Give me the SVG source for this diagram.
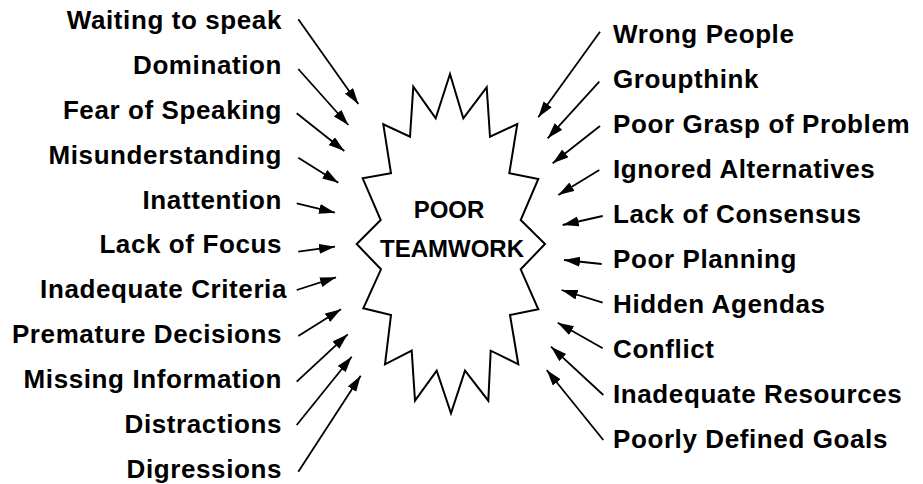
<svg xmlns="http://www.w3.org/2000/svg" width="923" height="484" viewBox="0 0 923 484">
<style>
.lbl{font-family:"Liberation Sans",Arial,sans-serif;font-weight:bold;font-size:26px;letter-spacing:0.6px;fill:#000}
.l{text-anchor:end}
.ctr{font-family:"Liberation Sans",Arial,sans-serif;font-weight:bold;font-size:24px;fill:#000;text-anchor:middle}
.arr{stroke:#000;stroke-width:1.8;fill:none;marker-end:url(#ah)}
</style>
<defs>
<marker id="ah" markerUnits="userSpaceOnUse" markerWidth="18" markerHeight="12" refX="16" refY="5" orient="auto">
<path d="M0,0 L16,5 L0,10 z" fill="#000"/>
</marker>
</defs>
<rect width="923" height="484" fill="#fff"/>
<g id="center">
<polygon points="450,74 463.3,118.3 486.7,87.3 490,136.7 517.3,124 509.3,173.3 538.3,179 520.7,220 545,244 520.7,269.3 538.3,309.3 510,315 518.3,364.3 490.7,350.7 488.3,400.7 465,370.7 451,413.3 436.7,370.7 415,400.7 411.7,350.7 385,364.3 391,315 363.3,308.3 381,269.3 356.7,244 380.7,220 362.7,178.3 391,173.3 383.3,124.3 410,136.7 413.3,86.7 435.7,118.3" fill="#fff" stroke="#000" stroke-width="2" stroke-linejoin="miter"/>
<text class="ctr" x="449" y="218">POOR</text>
<text class="ctr" x="452" y="256.5">TEAMWORK</text>
</g>
<g id="left-labels">
<text id="n-waiting" class="lbl l" x="282" y="29">Waiting to speak</text>
<text id="n-domination" class="lbl l" x="282" y="74">Domination</text>
<text id="n-fear" class="lbl l" x="282" y="119">Fear of Speaking</text>
<text id="n-misund" class="lbl l" x="282" y="164">Misunderstanding</text>
<text id="n-inatt" class="lbl l" x="282" y="209">Inattention</text>
<text id="n-focus" class="lbl l" x="282" y="253">Lack of Focus</text>
<text id="n-criteria" class="lbl l" x="287" y="298">Inadequate Criteria</text>
<text id="n-premature" class="lbl l" x="282" y="343">Premature Decisions</text>
<text id="n-missing" class="lbl l" x="282" y="388">Missing Information</text>
<text id="n-distr" class="lbl l" x="282" y="433">Distractions</text>
<text id="n-digr" class="lbl l" x="282" y="478">Digressions</text>
</g>
<g id="right-labels">
<text id="n-wrong" class="lbl" x="613" y="43">Wrong People</text>
<text id="n-group" class="lbl" x="613" y="88">Groupthink</text>
<text id="n-grasp" class="lbl" x="613" y="133">Poor Grasp of Problem</text>
<text id="n-ignored" class="lbl" x="613" y="178">Ignored Alternatives</text>
<text id="n-consensus" class="lbl" x="613" y="223">Lack of Consensus</text>
<text id="n-planning" class="lbl" x="613" y="268">Poor Planning</text>
<text id="n-hidden" class="lbl" x="613" y="313">Hidden Agendas</text>
<text id="n-conflict" class="lbl" x="613" y="358">Conflict</text>
<text id="n-resources" class="lbl" x="613" y="403">Inadequate Resources</text>
<text id="n-goals" class="lbl" x="613" y="448">Poorly Defined Goals</text>
</g>
<g id="connectors">
<line class="arr" x1="298.3" y1="19.3" x2="358.3" y2="104"/>
<line class="arr" x1="298.3" y1="69" x2="348.3" y2="125"/>
<line class="arr" x1="296.7" y1="113.3" x2="344.3" y2="151"/>
<line class="arr" x1="298.3" y1="157.7" x2="338.3" y2="182.7"/>
<line class="arr" x1="296.7" y1="203.3" x2="335" y2="212.7"/>
<line class="arr" x1="298.3" y1="251.7" x2="335" y2="246.7"/>
<line class="arr" x1="296.7" y1="290" x2="336" y2="277.3"/>
<line class="arr" x1="298.3" y1="336" x2="341" y2="309.3"/>
<line class="arr" x1="296.7" y1="381.7" x2="347.7" y2="334.3"/>
<line class="arr" x1="296.7" y1="425" x2="351.7" y2="356.7"/>
<line class="arr" x1="298.3" y1="471.7" x2="360.7" y2="375.7"/>
<line class="arr" x1="600" y1="31.7" x2="538.3" y2="117.3"/>
<line class="arr" x1="599.3" y1="81.7" x2="547.7" y2="138.3"/>
<line class="arr" x1="600" y1="126" x2="552.7" y2="163.3"/>
<line class="arr" x1="599.3" y1="170" x2="558.3" y2="195"/>
<line class="arr" x1="602.7" y1="216" x2="562.7" y2="225"/>
<line class="arr" x1="601.7" y1="264" x2="564" y2="260"/>
<line class="arr" x1="602.7" y1="302.7" x2="561.7" y2="290"/>
<line class="arr" x1="602.7" y1="348.3" x2="557.7" y2="322.7"/>
<line class="arr" x1="603.3" y1="395" x2="551" y2="346.7"/>
<line class="arr" x1="603.3" y1="440" x2="546.7" y2="370"/>
</g>
</svg>
